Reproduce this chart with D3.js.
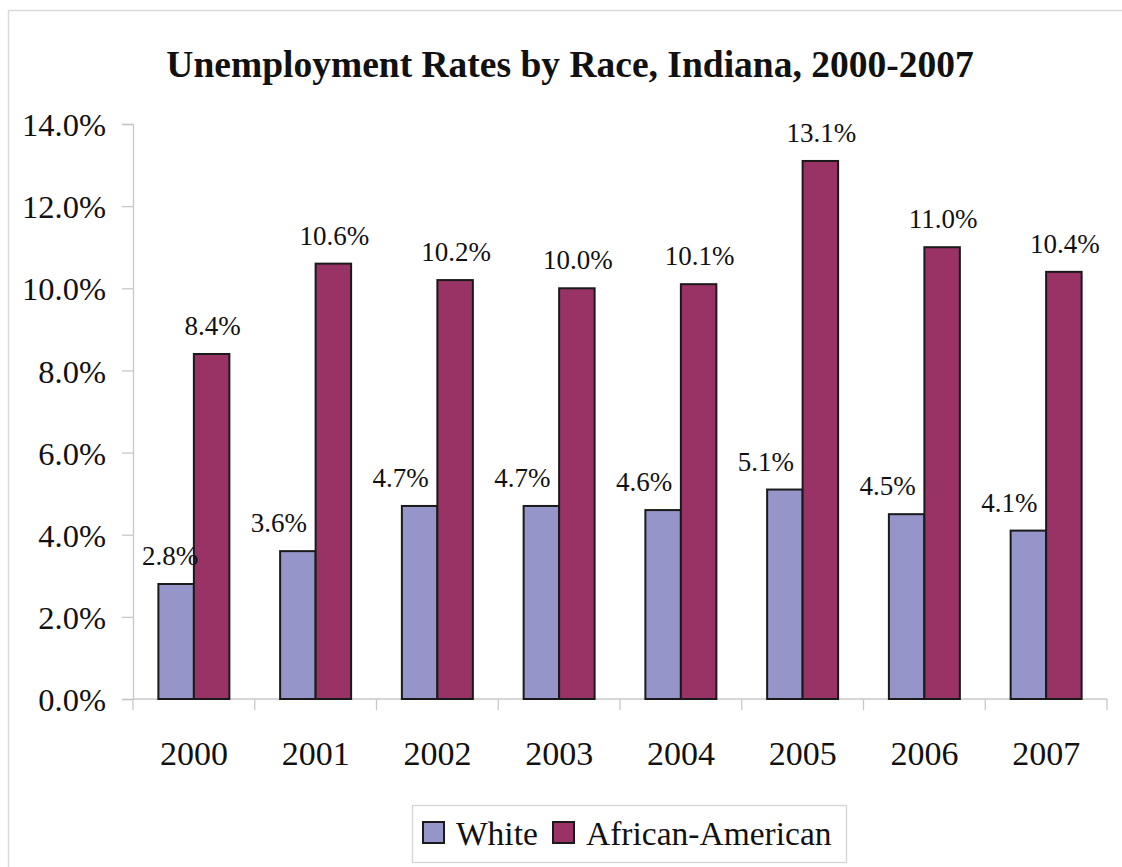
<!DOCTYPE html>
<html>
<head>
<meta charset="utf-8">
<script src="https://cdn.jsdelivr.net/npm/d3@7"></script>
<style>
  html, body { margin: 0; padding: 0; background: #fff; }
  svg { display: block; }
</style>
</head>
<body>
<svg id="chart" width="1122" height="867"></svg>
<script>
// Unemployment rates (%) by race, Indiana
const years = ["2000", "2001", "2002", "2003", "2004", "2005", "2006", "2007"];
const white = [2.8, 3.6, 4.7, 4.7, 4.6, 5.1, 4.5, 4.1];
const africanAmerican = [8.4, 10.6, 10.2, 10.0, 10.1, 13.1, 11.0, 10.4];
const seriesNames = ["White", "African-American"];
const seriesColors = ["#9595c9", "#993366"];
const yTicks = [0, 2, 4, 6, 8, 10, 12, 14];
const titleText = "Unemployment Rates by Race, Indiana, 2000-2007";

const FONT = '"Liberation Serif"';
const INK = "#111";

const svg = d3.select("#chart");
const W = 1122, H = 867;

// Chart area frame
svg.append("rect")
  .attr("x", 8.5).attr("y", 10.5)
  .attr("width", W + 10).attr("height", H + 10)
  .attr("fill", "#fff").attr("stroke", "#d9d9d9").attr("stroke-width", 1.5);

const plot = { left: 133, right: 1107, top: 124, bottom: 699 };

const x = d3.scaleBand().domain(years).range([plot.left, plot.right]).paddingInner(0).paddingOuter(0);
const inner = d3.scaleBand().domain(seriesNames).range([0, x.bandwidth()]).paddingInner(0).paddingOuter(0.715);
const y = d3.scaleLinear().domain([0, 14]).range([plot.bottom, plot.top]);

function styleText(sel, size, weight) {
  return sel.attr("font-family", "Liberation Serif")
    .style("font-family", FONT).style("font-size", size + "px")
    .style("font-weight", weight || "normal").attr("fill", INK);
}

// Title
styleText(svg.append("text")
  .attr("x", 570).attr("y", 77)
  .attr("text-anchor", "middle")
  .text(titleText), 37.5, "bold");

// Y axis
const yAxis = d3.axisLeft(y).tickValues(yTicks).tickSize(11).tickPadding(16)
  .tickFormat(d => d.toFixed(1) + "%");
const gy = svg.append("g").attr("transform", `translate(${plot.left},0)`).call(yAxis);
gy.attr("font-family", "Liberation Serif").attr("font-size", null);
gy.select(".domain").attr("stroke", "#c8c8c8").attr("stroke-width", 1.3);
gy.selectAll(".tick line").attr("stroke", "#c8c8c8").attr("stroke-width", 1.3);
styleText(gy.selectAll(".tick text"), 32.5).attr("dy", "0.36em");

// X axis (ticks at category boundaries)
const gx = svg.append("g").attr("transform", `translate(0,${plot.bottom})`);
gx.append("line")
  .attr("x1", plot.left).attr("x2", plot.right)
  .attr("stroke", "#c8c8c8").attr("stroke-width", 1.3);
const boundaries = years.map(d => x(d)).concat([plot.right]);
gx.selectAll("line.bound").data(boundaries).join("line")
  .attr("class", "bound")
  .attr("x1", d => d).attr("x2", d => d)
  .attr("y1", 0).attr("y2", 11)
  .attr("stroke", "#c8c8c8").attr("stroke-width", 1.3);
styleText(gx.selectAll("text").data(years).join("text")
  .attr("x", d => x(d) + x.bandwidth() / 2)
  .attr("y", 66)
  .attr("text-anchor", "middle")
  .text(d => d), 34);

// Bars
const rows = years.map((yr, i) => ({ year: yr, values: [white[i], africanAmerican[i]] }));
const groups = svg.append("g").selectAll("g").data(rows).join("g")
  .attr("transform", d => `translate(${x(d.year)},0)`);

groups.selectAll("rect").data(d => d.values.map((v, j) => ({ key: seriesNames[j], v, j })))
  .join("rect")
  .attr("x", d => inner(d.key))
  .attr("y", d => y(d.v))
  .attr("width", inner.bandwidth())
  .attr("height", d => y(0) - y(d.v))
  .attr("fill", d => seriesColors[d.j])
  .attr("stroke", "#1a1a1a").attr("stroke-width", 2);

// Value labels: White labels sit left of their bar, kept clear of the y axis
const labels = styleText(groups.selectAll("text").data(d => d.values.map((v, j) => ({ key: seriesNames[j], v, j, year: d.year })))
  .join("text")
  .attr("y", d => y(d.v) - 19)
  .attr("text-anchor", "middle")
  .text(d => d.v.toFixed(1) + "%"), 27);
labels.attr("x", function (d) {
  const cx = inner(d.key) + inner.bandwidth() / 2 + (d.j === 0 ? -19 : 1);
  const half = this.getComputedTextLength() / 2;
  const minX = plot.left + 9 - x(d.year) + half;
  return Math.max(cx, minX);
});

// Legend
const lg = svg.append("g");
lg.append("rect")
  .attr("x", 412.5).attr("y", 805.5).attr("width", 434).attr("height", 57)
  .attr("fill", "#fff").attr("stroke", "#d4d4d4").attr("stroke-width", 1.3);
const legendItems = [
  { name: seriesNames[0], color: seriesColors[0], sx: 423, tx: 456 },
  { name: seriesNames[1], color: seriesColors[1], sx: 553, tx: 586 }
];
legendItems.forEach(it => {
  lg.append("rect")
    .attr("x", it.sx).attr("y", 822).attr("width", 21).attr("height", 21)
    .attr("fill", it.color).attr("stroke", "#1a1a1a").attr("stroke-width", 2);
  styleText(lg.append("text")
    .attr("x", it.tx).attr("y", 845)
    .text(it.name), 33.5);
});
</script>
</body>
</html>
